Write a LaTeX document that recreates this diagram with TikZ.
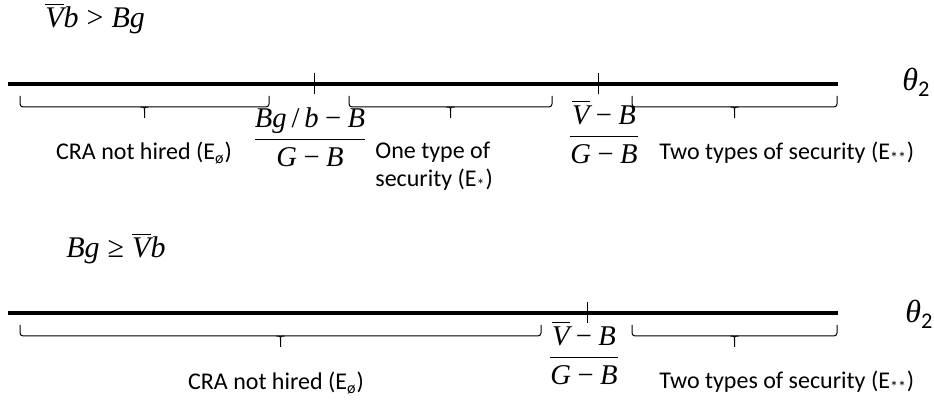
\documentclass[tikz,border=0pt]{standalone}
\usepackage{amsmath}
\usepackage{fontspec}
\setmainfont{Carlito}
\newfontfamily\tms{Liberation Serif}
\usetikzlibrary{positioning}

% italic letters and plain signs in a Times-like face
\newcommand{\mv}[1]{\text{\tms\itshape #1}}
\newcommand{\mminus}{\mathbin{\text{\tms −}}}

% under-bracket: left x, right x, top y
\newcommand{\underbrk}[3]{%
  \draw[brk] (#1,#3) -- (#1,#3+11) -- (#2,#3+11) -- (#2,#3);
  \draw[tick] ({(#1+#2)/2-4},#3+11) .. controls ({(#1+#2)/2},#3+11) .. ({(#1+#2)/2},#3+15) -- ({(#1+#2)/2},#3+22);
  \draw[tick] ({(#1+#2)/2+4},#3+11) .. controls ({(#1+#2)/2},#3+11) .. ({(#1+#2)/2},#3+15);
}

\begin{document}
\begin{tikzpicture}[x=0.5pt,y=-0.5pt]
	\tikzstyle{axis} = [draw, line width=1.8pt]
	\tikzstyle{tick} = [draw, line width=0.5pt]
	\tikzstyle{brk} = [tick, rounded corners=1.5pt]
	\tikzstyle{lbl} = [inner sep=0, font=\fontsize{12}{14}\selectfont]
	\tikzstyle{frm} = [inner sep=0, font=\fontsize{14.3}{17}\selectfont]
	\tikzstyle{cnd} = [inner sep=0, font=\fontsize{15}{18}\selectfont]
	\tikzstyle{var} = [inner sep=0, font=\fontsize{16}{19}\selectfont]
	\useasboundingbox (0,0) rectangle (934,405);

	% case 1
	\node[cnd, anchor=base west] (cond1) at (45,28) {$\overline{\mv{V}}\mv{b} \mathrel{\text{\tms >}} \mv{Bg}$};
	\coordinate (a1) at (8,84);
	\coordinate (a2) at (838,84);
	\draw[axis] (a1) -- (a2);
	\node[var, anchor=base west] (theta1) at (902,91) {$\mv{θ}_{\text{2}}$};
	\draw[tick] (314,73) -- (314,94);
	\draw[tick] (598,73) -- (598,94);
	\underbrk{20}{269}{96}
	\underbrk{349}{552}{96}
	\underbrk{632}{837}{96}
	\node[lbl, anchor=base] (none1) at (144,160) {CRA not hired (E\textsubscript{ø})};
	\node[frm, anchor=base] (low1) at (310,147) {$\dfrac{\mv{Bg}\,\text{\tms /}\,\mv{b}\mminus\mv{B}}{\mv{G}\mminus\mv{B}}$};
	\node[lbl, anchor=north west, align=left] (one1) at (375,142) {One type of\\security (E\textsubscript{*})};
	\node[frm, anchor=base] (high1) at (604,144) {$\dfrac{\overline{\mv{V}}\mminus\mv{B}}{\mv{G}\mminus\mv{B}}$};
	\node[lbl, anchor=base west] (two1) at (659,160) {Two types of security (E\textsubscript{**})};

	% case 2
	\node[cnd, anchor=base west] (cond2) at (66,258) {$\mv{Bg} \mathrel{\text{\tms ≥}} \overline{\mv{V}}\mv{b}$};
	\coordinate (b1) at (8,313);
	\coordinate (b2) at (838,313);
	\draw[axis] (b1) -- (b2);
	\node[var, anchor=base west] (theta2) at (905,323) {$\mv{θ}_{\text{2}}$};
	\draw[tick] (587,302) -- (587,323);
	\underbrk{20}{541}{325}
	\underbrk{632}{837}{325}
	\node[lbl, anchor=base] (none2) at (276,390) {CRA not hired (E\textsubscript{ø})};
	\node[frm, anchor=base] (high2) at (584,365) {$\dfrac{\overline{\mv{V}}\mminus\mv{B}}{\mv{G}\mminus\mv{B}}$};
	\node[lbl, anchor=base west] (two2) at (659,389) {Two types of security (E\textsubscript{**})};
\end{tikzpicture}
\end{document}
